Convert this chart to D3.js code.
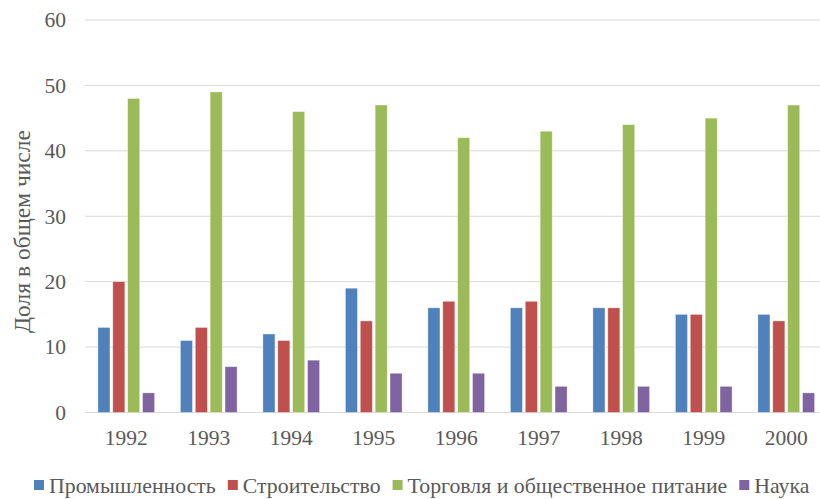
<!DOCTYPE html>
<html>
<head>
<meta charset="utf-8">
<script src="https://cdn.jsdelivr.net/npm/d3@7"></script>
<style>
    body { margin: 0; background: #fff; }
</style>
</head>
<body>
<div id="chart"></div>
<script>
// data
const years = ["1992", "1993", "1994", "1995", "1996", "1997", "1998", "1999", "2000"];
const seriesNames = ["Промышленность", "Строительство", "Торговля и общественное питание", "Наука"];
const industry = [13, 11, 12, 19, 16, 16, 16, 15, 15];
const building = [20, 13, 11, 14, 17, 17, 16, 15, 14];
const trade = [48, 49, 46, 47, 42, 43, 44, 45, 47];
const science = [3, 7, 8, 6, 6, 4, 4, 4, 3];
const yTicks = [0, 10, 20, 30, 40, 50, 60];
const colors = ["#4f81bd", "#c0504d", "#9bbb59", "#8064a2"];

const seriesValues = [industry, building, trade, science];
const FONT = "Liberation Serif";

let width = 820, height = 499;
let margin = {top: 20, right: -7.5, bottom: 86.5, left: 85};

let svg = d3.select("#chart").append("svg")
    .attr("width", width)
    .attr("height", height);

let x0 = d3.scaleBand()
    .domain(years)
    .range([margin.left, width - margin.right])
    .paddingInner(0.313)
    .paddingOuter(0.1565);

let x1 = d3.scaleBand()
    .domain(d3.range(seriesNames.length))
    .range([0, x0.bandwidth()])
    .paddingInner(0.19);

let y = d3.scaleLinear()
    .domain([0, 60])
    .range([height - margin.bottom, margin.top]);

// gridlines
svg.append("g")
    .selectAll("line")
    .data(yTicks)
    .enter().append("line")
    .attr("x1", margin.left)
    .attr("x2", width)
    .attr("y1", d => y(d))
    .attr("y2", d => y(d))
    .attr("stroke", "#d9d9d9")
    .attr("stroke-width", 1);

// y axis labels
let yg = svg.append("g")
    .attr("transform", "translate(66,0)")
    .call(d3.axisLeft(y).tickValues(yTicks).tickSize(0).tickPadding(0));
yg.select(".domain").remove();
yg.selectAll("text")
    .style("font-family", FONT)
    .style("font-size", "21.5px")
    .attr("fill", "#595959");

// x axis labels
let xg = svg.append("g")
    .attr("transform", "translate(0," + (height - margin.bottom) + ")")
    .call(d3.axisBottom(x0).tickSize(0).tickPadding(0));
xg.select(".domain").remove();
xg.selectAll("text")
    .attr("dy", null)
    .attr("y", 32.5)
    .style("font-family", FONT)
    .style("font-size", "21.5px")
    .attr("fill", "#595959");

// bars
let groups = svg.append("g")
    .selectAll("g")
    .data(years)
    .enter().append("g")
    .attr("transform", d => "translate(" + x0(d) + ",0)");

groups.selectAll("rect")
    .data((d, i) => seriesValues.map((s, k) => ({k: k, v: s[i]})))
    .enter().append("rect")
    .attr("x", d => x1(d.k))
    .attr("width", x1.bandwidth())
    .attr("y", d => y(d.v))
    .attr("height", d => y(0) - y(d.v))
    .attr("fill", d => colors[d.k])
    .attr("stroke", "#ffffff")
    .attr("stroke-opacity", 0.5)
    .attr("stroke-width", 0.7);

// y axis title
svg.append("text")
    .attr("transform", "translate(30," + 231.5 + ") rotate(-90)")
    .attr("text-anchor", "middle")
    .style("font-family", FONT)
    .style("font-size", "23.5px")
    .attr("fill", "#595959")
    .text("Доля в общем числе");

// legend
let legend = svg.append("g");
let lx = 34;
seriesNames.forEach((name, i) => {
    legend.append("rect")
        .attr("x", lx)
        .attr("y", 480)
        .attr("width", 10)
        .attr("height", 10)
        .attr("fill", colors[i]);
    let t = legend.append("text")
        .attr("x", lx + 15)
        .attr("y", 492.5)
        .style("font-family", FONT)
        .style("font-size", "21.8px")
        .attr("fill", "#595959")
        .text(name);
    lx += 15 + t.node().getComputedTextLength() + 12;
});
</script>
</body>
</html>
